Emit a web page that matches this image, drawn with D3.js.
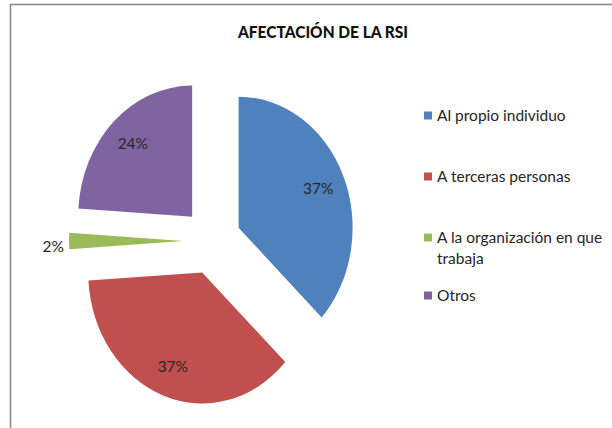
<!DOCTYPE html>
<html lang="es">
<head>
<meta charset="utf-8">
<title>Afectacion de la RSI</title>
<script src="https://d3js.org/d3.v7.min.js"></script>
<style>
  body { margin: 0; background: #fff; }
  text { font-family: "Lato", "Open Sans", sans-serif; fill: #262626; }
  .title { font-weight: 900; font-size: 17px; fill: #111; }
  .lbl { font-size: 15.5px; }
  .leg { font-size: 15.5px; }
</style>
</head>
<body>
<div id="main"></div>
<script>
var width = 612, height = 428;

// data
var categories = ["Al propio individuo", "A terceras personas", "A la organización en que trabaja", "Otros"];
var values = [37, 37, 2, 24];
var legendLines = [["Al propio individuo"], ["A terceras personas"], ["A la organización en que", "trabaja"], ["Otros"]];
var colors = ["#4f81bd", "#c0504d", "#9bbb59", "#8064a2"];

var svg = d3.select("#main").append("svg")
  .attr("width", width).attr("height", height);

// chart frame
svg.append("rect")
  .attr("x", 10.5).attr("y", 4.5)
  .attr("width", width + 10).attr("height", height + 10)
  .attr("fill", "none").attr("stroke", "#8c8c8c").attr("stroke-width", 1.6);

svg.append("text").attr("class", "title")
  .attr("x", 323).attr("y", 37.5)
  .attr("text-anchor", "middle")
  .attr("textLength", 170).attr("lengthAdjust", "spacingAndGlyphs")
  .text("AFECTACIÓN DE LA RSI");

var cx = 212, cy = 241, r = 114, sy = 1.15, explode = 29;

var pie = d3.pie().sort(null).value(d => d)(values);
var arc = d3.arc().innerRadius(0).outerRadius(r);

var g = svg.append("g").attr("transform", "translate(" + cx + "," + cy + ") scale(1," + sy + ")");

function mid(d) { return (d.startAngle + d.endAngle) / 2; }

g.selectAll("path")
  .data(pie)
  .enter().append("path")
  .attr("d", arc)
  .attr("fill", (d, i) => colors[i])
  .attr("transform", d => "translate(" + (explode * Math.sin(mid(d))) + "," + (-explode * Math.cos(mid(d))) + ")");

// labels (placed in unscaled page space)
svg.selectAll("text.lbl")
  .data(pie)
  .enter().append("text")
  .attr("class", "lbl")
  .each(function (d) {
    var a = mid(d);
    var small = d.value < 5;
    var rr = small ? explode + r + 5 : explode + r * 0.76;
    var x = cx + rr * Math.sin(a);
    var y = cy - rr * Math.cos(a) * sy;
    d3.select(this)
      .attr("x", x).attr("y", y + (small ? 6 : 0))
      .attr("dy", "0.35em")
      .attr("text-anchor", small ? "end" : "middle")
      .text(d.value + "%");
  });

// legend
var legY = [116, 177, 238, 296];
var leg = svg.selectAll("g.leg")
  .data(categories)
  .enter().append("g")
  .attr("class", "leg")
  .attr("transform", (d, i) => "translate(424," + legY[i] + ")");

leg.append("rect")
  .attr("x", 0).attr("y", -4.5)
  .attr("width", 8).attr("height", 8)
  .attr("fill", (d, i) => colors[i]);

leg.append("text")
  .attr("class", "leg")
  .attr("x", 13)
  .each(function (d, i) {
    var t = d3.select(this);
    legendLines[i].forEach(function (line, j) {
      t.append("tspan").attr("x", 13).attr("y", j * 21).attr("dy", "0.35em").text(line);
    });
  });
</script>
</body>
</html>
